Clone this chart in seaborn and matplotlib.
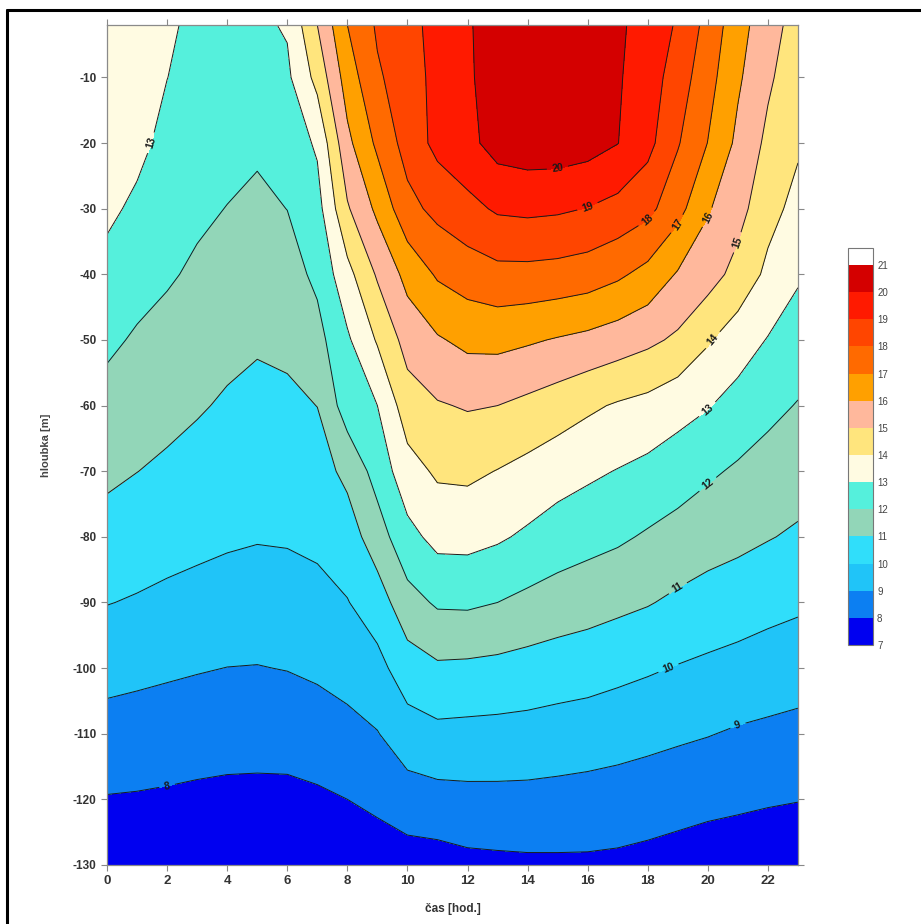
import matplotlib
matplotlib.use('Agg')
import matplotlib.pyplot as plt
import seaborn as sns
import numpy as np
from matplotlib.colors import BoundaryNorm, ListedColormap
from matplotlib.lines import Line2D

# osa x: čas [hod.], osa y: hloubka [m]
hours = [0, 1, 2, 3, 4, 5, 6, 7, 8, 9, 10, 11, 12, 13, 14, 15, 16, 17, 18, 19, 20, 21, 22, 23]
depths = [-2, -10, -20, -30, -40, -50, -60, -70, -80, -90, -100, -110, -120, -130]

# teplota [°C] v jednotlivých hloubkách, hodnoty pro hodiny 0..23
t_2 = [13.5, 13.35, 13.1, 12.85, 12.8, 12.8, 13.1, 15.0, 17.0, 18.13, 18.66, 19.35, 19.88, 20.55, 20.7, 20.7, 20.6, 20.15, 19.65, 18.88, 17.67, 16.38, 15.42, 14.6]
t_10 = [13.4, 13.3, 13.01, 12.65, 12.57, 12.51, 12.81, 14.31, 16.47, 17.87, 18.5, 19.32, 19.85, 20.5, 20.65, 20.65, 20.55, 20.1, 19.5, 18.52, 17.37, 16.15, 15.16, 14.39]
t_20 = [13.3, 13.26, 12.72, 12.4, 12.28, 12.15, 12.41, 13.14, 15.75, 17.2, 18.4, 19.28, 19.72, 20.4, 20.55, 20.55, 20.4, 20.02, 19.3, 18.08, 16.98, 15.78, 14.78, 14.13]
t_30 = [13.2, 12.81, 12.41, 12.16, 11.98, 11.8, 12.01, 12.63, 14.89, 16.22, 17.69, 18.28, 18.71, 19.13, 19.21, 19.14, 18.97, 18.69, 18.27, 17.34, 16.09, 15.35, 14.33, 13.7]
t_40 = [12.69, 12.35, 12.1, 11.86, 11.62, 11.45, 11.6, 12.21, 13.68, 15.12, 16.31, 17.12, 17.47, 17.71, 17.71, 17.64, 17.5, 17.17, 16.69, 15.91, 15.42, 14.67, 13.78, 13.12]
t_50 = [12.18, 11.89, 11.71, 11.48, 11.25, 11.1, 11.2, 11.67, 12.85, 14.1, 15.38, 15.9, 16.24, 16.28, 16.12, 15.93, 15.75, 15.5, 15.21, 14.83, 14.1, 13.48, 12.95, 12.53]
t_60 = [11.68, 11.45, 11.28, 11.09, 10.89, 10.76, 10.81, 11.01, 12.5, 13.0, 14.53, 14.92, 15.08, 15.0, 14.76, 14.49, 14.17, 13.9, 13.7, 13.36, 13.06, 12.64, 12.25, 11.95]
t_70 = [11.19, 11.01, 10.84, 10.67, 10.51, 10.41, 10.45, 10.6, 11.24, 12.39, 13.61, 14.15, 14.2, 13.97, 13.71, 13.42, 13.18, 12.96, 12.74, 12.47, 12.15, 11.87, 11.62, 11.42]
t_80 = [10.64, 10.48, 10.34, 10.23, 10.13, 10.06, 10.09, 10.2, 10.52, 11.53, 12.7, 13.3, 13.32, 13.13, 12.84, 12.53, 12.33, 12.15, 11.89, 11.64, 11.4, 11.24, 11.05, 10.87]
t_90 = [10.03, 9.92, 9.8, 9.7, 9.6, 9.54, 9.58, 9.71, 9.96, 10.51, 11.63, 12.13, 12.16, 12.0, 11.76, 11.56, 11.4, 11.23, 11.06, 10.82, 10.63, 10.48, 10.3, 10.16]
t_100 = [9.32, 9.23, 9.14, 9.06, 8.99, 8.97, 9.03, 9.16, 9.36, 9.7, 10.53, 10.85, 10.81, 10.74, 10.63, 10.51, 10.42, 10.26, 10.11, 9.95, 9.81, 9.68, 9.55, 9.44]
t_110 = [8.63, 8.57, 8.51, 8.44, 8.38, 8.36, 8.39, 8.52, 8.71, 8.96, 9.56, 9.76, 9.72, 9.69, 9.65, 9.57, 9.49, 9.39, 9.27, 9.15, 9.04, 8.9, 8.81, 8.72]
t_120 = [7.95, 7.92, 7.87, 7.81, 7.77, 7.76, 7.76, 7.85, 8.0, 8.21, 8.55, 8.67, 8.73, 8.74, 8.73, 8.69, 8.64, 8.57, 8.48, 8.37, 8.26, 8.17, 8.09, 8.03]
t_130 = [7.28, 7.28, 7.24, 7.19, 7.15, 7.15, 7.12, 7.19, 7.29, 7.46, 7.54, 7.58, 7.74, 7.79, 7.83, 7.84, 7.84, 7.8, 7.71, 7.6, 7.49, 7.45, 7.38, 7.33]

levels = [7, 8, 9, 10, 11, 12, 13, 14, 15, 16, 17, 18, 19, 20, 21]
line_levels = [8, 9, 10, 11, 12, 13, 14, 15, 16, 17, 18, 19, 20]
colors = ['#0000f0', '#0c7ff2', '#20c4f8', '#30defa', '#92d6b8', '#55f0dc', '#fffbe2',
          '#ffe57d', '#ffb89c', '#ffa000', '#ff6a00', '#ff4500', '#ff1a00', '#d40000']

temp = np.array([t_2, t_10, t_20, t_30, t_40, t_50, t_60, t_70, t_80, t_90, t_100, t_110, t_120, t_130])

sns.set_style('ticks')
plt.rcParams['font.family'] = ['Liberation Sans', 'DejaVu Sans']
plt.rcParams['axes.unicode_minus'] = False

fig = plt.figure(figsize=(9.21, 9.24), dpi=100)
ax = fig.add_axes([0.1162, 0.0639, 0.7502, 0.9091])

cmap = ListedColormap(sns.color_palette(colors))
cmap.set_over('#ffffff')
norm = BoundaryNorm(levels, cmap.N)
cf = ax.contourf(hours, depths, temp, levels=levels, cmap=cmap, norm=norm, extend='max')
cs = ax.contour(hours, depths, temp, levels=line_levels, colors='#1a1a1a', linewidths=0.7)
labels = ax.clabel(cs, fmt='%d', fontsize=7.5, inline=True)
for t in labels:
    t.set_fontweight('bold')

ax.set_xlim(0, 23)
ax.set_ylim(-130, -2)
ax.set_xticks([0, 2, 4, 6, 8, 10, 12, 14, 16, 18, 20, 22])
ax.set_yticks([-130, -120, -110, -100, -90, -80, -70, -60, -50, -40, -30, -20, -10])
ax.tick_params(top=True, right=True, labeltop=False, labelright=False, direction='out',
               length=4, width=0.8, color='#888888', labelsize=8.5, labelcolor='#333333')
for lab in ax.get_xticklabels() + ax.get_yticklabels():
    lab.set_fontweight('bold')
ax.tick_params(axis='x', labelsize=9.5, pad=3)
for s in ax.spines.values():
    s.set_color('#8a8a8a')
    s.set_linewidth(0.9)

ax.set_xlabel('čas [hod.]', fontsize=8.5, fontweight='bold', color='#333333', labelpad=12)
ax.set_ylabel('hloubka [m]', fontsize=8, fontweight='bold', color='#444444', labelpad=16)

# barevná škála
cax = fig.add_axes([0.9207, 0.302, 0.0271, 0.4297])
cb = fig.colorbar(cf, cax=cax, ticks=levels, extendrect=True, extendfrac=0.045)
cb.ax.tick_params(length=0, labelsize=7, labelcolor='#444444', pad=3)
cb.outline.set_edgecolor('#777777')
cb.outline.set_linewidth(0.8)
cb.ax.set_yticklabels([str(v) for v in levels])

# rámeček (horní a levý okraj)
fig.add_artist(Line2D([0.0076, 1.0], [0.989, 0.989], transform=fig.transFigure, color='black', lw=2.2))
fig.add_artist(Line2D([0.0076, 0.0076], [0.0, 0.989], transform=fig.transFigure, color='black', lw=2.2))

fig.savefig('out.png', dpi=100)
